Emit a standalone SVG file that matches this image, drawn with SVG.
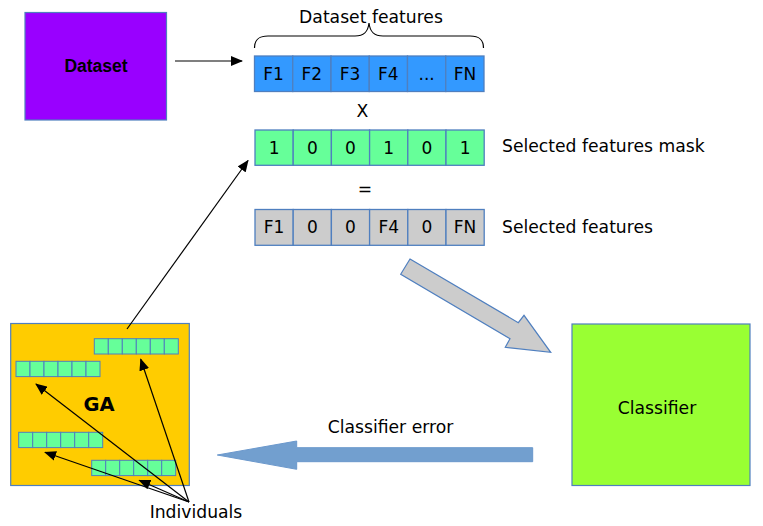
<svg xmlns="http://www.w3.org/2000/svg" width="763" height="526" viewBox="0 0 763 526">
<style>
  text { font-family: "DejaVu Sans", Verdana, sans-serif; fill: #000; }
  .t17 { font-size: 17.2px; }
  .cell { font-size: 17px; text-anchor: middle; }
  .box { stroke: #4f7fbf; stroke-width: 1.2; }
  .c { stroke: #4f7fbf; stroke-width: 1.3; }
  .m { fill: #66ff99; stroke: #4f7fbf; stroke-width: 1; }
  .ln { stroke: #000; stroke-width: 1.2; fill: none; }
</style>
<defs>
  <marker id="ah" viewBox="0 0 12 10" refX="11" refY="5" markerWidth="12" markerHeight="10" markerUnits="userSpaceOnUse" orient="auto">
    <path d="M0,0 L12,5 L0,10 Z" fill="#000"/>
  </marker>
</defs>
<rect width="763" height="526" fill="#fff"/>

<g id="dataset">
  <rect class="box" x="25" y="12.5" width="141.5" height="107.5" fill="#9900ff"/>
  <text x="96" y="72" text-anchor="middle" style="font-family:'Liberation Sans',Arial,sans-serif;font-weight:bold;font-size:17.5px">Dataset</text>
</g>

<g id="features">
  <text class="t17" x="371" y="22.5" text-anchor="middle">Dataset features</text>
  <path class="ln" d="M254.5,48 C254.5,40 258,36 268,36 L355,36 C364,36 368,32 369,23 C370,32 374,36 383,36 L470,36 C480,36 483.5,40 483.5,48"/>
  <g fill="#3399ff">
    <rect class="c" x="254.5" y="56" width="38.25" height="35.5"/>
    <rect class="c" x="292.75" y="56" width="38.25" height="35.5"/>
    <rect class="c" x="331" y="56" width="38.25" height="35.5"/>
    <rect class="c" x="369.25" y="56" width="38.25" height="35.5"/>
    <rect class="c" x="407.5" y="56" width="38.25" height="35.5"/>
    <rect class="c" x="445.75" y="56" width="38.25" height="35.5"/>
  </g>
  <text class="cell" x="273.6" y="80">F1</text>
  <text class="cell" x="311.9" y="80">F2</text>
  <text class="cell" x="350.1" y="80">F3</text>
  <text class="cell" x="388.4" y="80">F4</text>
  <text class="cell" x="426.6" y="80">...</text>
  <text class="cell" x="464.9" y="80">FN</text>
</g>

<text class="t17" x="362.5" y="117" text-anchor="middle">X</text>

<g id="mask">
  <g fill="#66ff99">
    <rect class="c" x="255" y="130" width="38.2" height="35.3"/>
    <rect class="c" x="293.2" y="130" width="38.2" height="35.3"/>
    <rect class="c" x="331.4" y="130" width="38.2" height="35.3"/>
    <rect class="c" x="369.6" y="130" width="38.2" height="35.3"/>
    <rect class="c" x="407.8" y="130" width="38.2" height="35.3"/>
    <rect class="c" x="446" y="130" width="38.2" height="35.3"/>
  </g>
  <text class="cell" x="274.1" y="154">1</text>
  <text class="cell" x="312.3" y="154">0</text>
  <text class="cell" x="350.5" y="154">0</text>
  <text class="cell" x="388.7" y="154">1</text>
  <text class="cell" x="426.9" y="154">0</text>
  <text class="cell" x="465.1" y="154">1</text>
  <text class="t17" x="502" y="151.5">Selected features mask</text>
</g>

<text class="t17" x="365" y="195" text-anchor="middle">=</text>

<g id="selected">
  <g fill="#cccccc">
    <rect class="c" x="255" y="209.5" width="38.2" height="35.8"/>
    <rect class="c" x="293.2" y="209.5" width="38.2" height="35.8"/>
    <rect class="c" x="331.4" y="209.5" width="38.2" height="35.8"/>
    <rect class="c" x="369.6" y="209.5" width="38.2" height="35.8"/>
    <rect class="c" x="407.8" y="209.5" width="38.2" height="35.8"/>
    <rect class="c" x="446" y="209.5" width="38.2" height="35.8"/>
  </g>
  <text class="cell" x="274.1" y="233">F1</text>
  <text class="cell" x="312.3" y="233">0</text>
  <text class="cell" x="350.5" y="233">0</text>
  <text class="cell" x="388.7" y="233">F4</text>
  <text class="cell" x="426.9" y="233">0</text>
  <text class="cell" x="465.1" y="233">FN</text>
  <text class="t17" x="502" y="232.5">Selected features</text>
</g>

<g id="classifier">
  <rect class="box" x="572" y="324" width="178" height="161.5" fill="#99ff33"/>
  <text class="t17" x="657" y="414" text-anchor="middle">Classifier</text>
</g>

<g id="ga">
  <rect class="box" x="10.7" y="323.5" width="178.6" height="162" fill="#ffcc00"/>
  <text x="99" y="411" text-anchor="middle" style="font-weight:bold;font-size:19.5px">GA</text>
  <g id="ind-a">
    <rect class="m" x="94.3" y="338.7" width="14" height="15.3"/>
    <rect class="m" x="108.3" y="338.7" width="14" height="15.3"/>
    <rect class="m" x="122.3" y="338.7" width="14" height="15.3"/>
    <rect class="m" x="136.3" y="338.7" width="14" height="15.3"/>
    <rect class="m" x="150.3" y="338.7" width="14" height="15.3"/>
    <rect class="m" x="164.3" y="338.7" width="14" height="15.3"/>
  </g>
  <g id="ind-b">
    <rect class="m" x="16" y="361.3" width="14" height="15.3"/>
    <rect class="m" x="30" y="361.3" width="14" height="15.3"/>
    <rect class="m" x="44" y="361.3" width="14" height="15.3"/>
    <rect class="m" x="58" y="361.3" width="14" height="15.3"/>
    <rect class="m" x="72" y="361.3" width="14" height="15.3"/>
    <rect class="m" x="86" y="361.3" width="14" height="15.3"/>
  </g>
  <g id="ind-c">
    <rect class="m" x="18.7" y="432.3" width="14" height="15.3"/>
    <rect class="m" x="32.7" y="432.3" width="14" height="15.3"/>
    <rect class="m" x="46.7" y="432.3" width="14" height="15.3"/>
    <rect class="m" x="60.7" y="432.3" width="14" height="15.3"/>
    <rect class="m" x="74.7" y="432.3" width="14" height="15.3"/>
    <rect class="m" x="88.7" y="432.3" width="14" height="15.3"/>
  </g>
  <g id="ind-d">
    <rect class="m" x="91.7" y="460.3" width="14" height="15.3"/>
    <rect class="m" x="105.7" y="460.3" width="14" height="15.3"/>
    <rect class="m" x="119.7" y="460.3" width="14" height="15.3"/>
    <rect class="m" x="133.7" y="460.3" width="14" height="15.3"/>
    <rect class="m" x="147.7" y="460.3" width="14" height="15.3"/>
    <rect class="m" x="161.7" y="460.3" width="14" height="15.3"/>
  </g>
</g>

<text class="t17" x="196" y="517.5" text-anchor="middle">Individuals</text>
<text class="t17" x="390.5" y="432.5" text-anchor="middle">Classifier error</text>

<g id="connectors">
  <line class="ln" x1="175" y1="61" x2="242" y2="61" marker-end="url(#ah)"/>
  <line class="ln" x1="127" y1="329" x2="248" y2="160.5" marker-end="url(#ah)"/>
  <line class="ln" x1="189" y1="502" x2="140.7" y2="359.3" marker-end="url(#ah)"/>
  <line class="ln" x1="189" y1="502" x2="36" y2="384" marker-end="url(#ah)"/>
  <line class="ln" x1="189" y1="502" x2="45" y2="452.3" marker-end="url(#ah)"/>
  <line class="ln" x1="189" y1="502" x2="139.3" y2="480.3" marker-end="url(#ah)"/>
  <polygon points="410,259 518.3,322.7 524,315.3 550.7,352.3 505.3,347.3 510,338.7 400.7,274.3" fill="#cccccc" stroke="#4f7fbf" stroke-width="1.2"/>
  <polygon points="532.7,447.7 296.7,447.7 296.7,441 217.3,455 296.7,469.3 296.7,461.7 532.7,461.7" fill="#729fcf" stroke="#6b98cc" stroke-width="1"/>
</g>
</svg>
